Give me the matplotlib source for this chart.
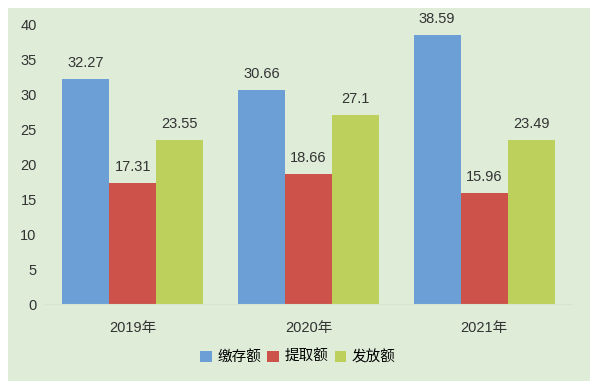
import numpy as np
import matplotlib as mpl
mpl.use('Agg')
import matplotlib.pyplot as plt
from matplotlib.patches import Rectangle

plt.rcParams['font.family'] = ['Liberation Sans', 'Noto Sans CJK SC']

# data
years = ['2019年', '2020年', '2021年']
series = ['缴存额', '提取额', '发放额']
deposit = [32.27, 30.66, 38.59]
withdraw = [17.31, 18.66, 15.96]
loans = [23.55, 27.1, 23.49]
colors = ['#6b9fd5', '#cd5249', '#bdd05b']
bg = '#deecd8'

fig = plt.figure(figsize=(6.01, 3.90), dpi=100)
fig.patch.set_facecolor('white')
# light green panel, behind the axes
fig.patches.append(Rectangle((8/601, 1 - 381/390), 582/601, 373/390,
                             transform=fig.transFigure, facecolor=bg,
                             edgecolor='none', zorder=-10))

ax = fig.add_axes([45/601, 1 - 304/390, 527/601, 279/390])
ax.set_facecolor('none')

x = np.arange(len(years))
w = 0.268
for i, (vals, name) in enumerate(zip([deposit, withdraw, loans], series)):
    pos = x + (i - 1) * w
    ax.bar(pos, vals, w, color=colors[i], label=name, zorder=2)
    for p, v in zip(pos, vals):
        ax.text(p, v + 1.3, f'{v:g}', ha='center', va='bottom',
                fontsize=10.5, color='#333333')

ax.set_xlim(-0.5, 2.5)
ax.set_ylim(0, 40)
ax.set_yticks(range(0, 41, 5))
ax.set_xticks(x)
ax.set_xticklabels(years)
ax.tick_params(length=0, labelsize=10.5, colors='#333333')
ax.tick_params(axis='y', pad=6)
ax.tick_params(axis='x', pad=12)
for s in ['top', 'right', 'left']:
    ax.spines[s].set_visible(False)
ax.spines['bottom'].set_color('#d8e4d2')

fig.legend(loc='center', bbox_to_anchor=(298/601, 1 - 357/390), ncol=3,
           frameon=False, fontsize=10.5, handlelength=0.8, handleheight=0.8,
           handletextpad=0.4, columnspacing=0.4)

fig.savefig('out.png', dpi=100)
